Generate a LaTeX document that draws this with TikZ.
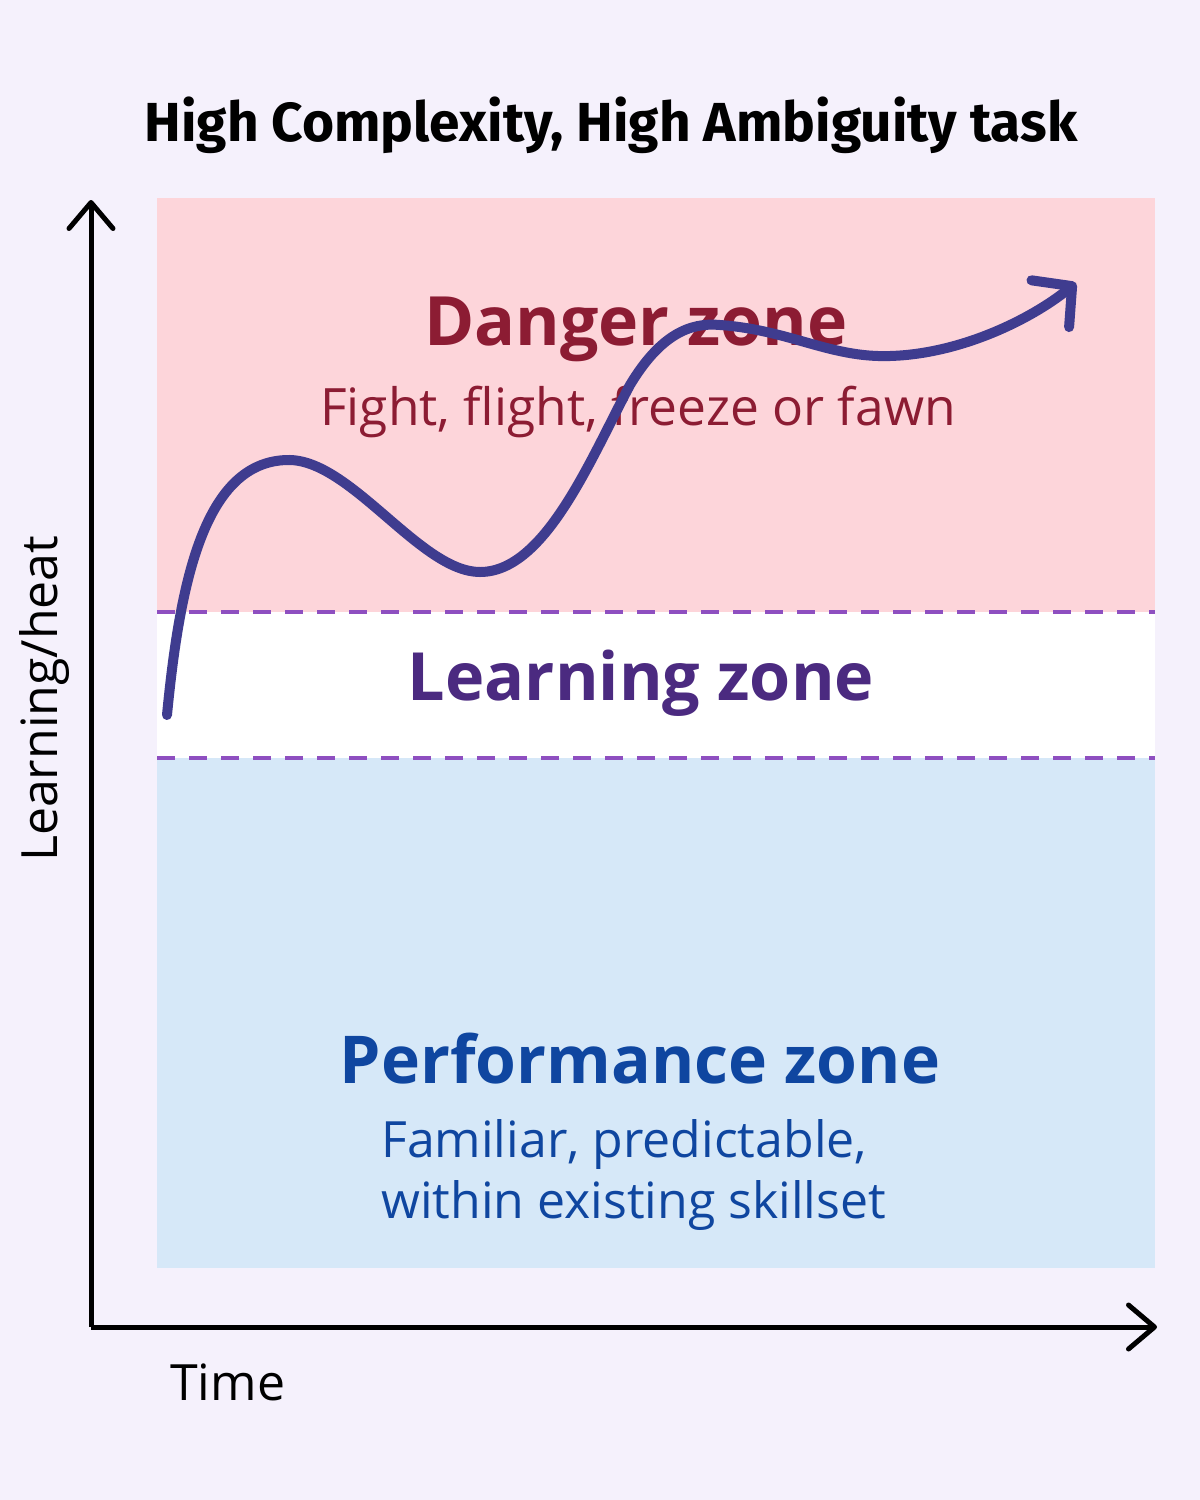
\documentclass[tikz,border=0pt]{standalone}
\usepackage{fontspec}
\setmainfont{Open Sans}
\newfontfamily\headfont{Fira Sans}
\usetikzlibrary{arrows.meta}
\definecolor{bgcol}{HTML}{F5F1FC}
\definecolor{dangercol}{HTML}{FDD5DA}
\definecolor{perfcol}{HTML}{D6E8F8}
\definecolor{dashcol}{HTML}{8E4FC0}
\definecolor{dangertxt}{HTML}{8C1C33}
\definecolor{learntxt}{HTML}{4B2A80}
\definecolor{perftxt}{HTML}{0F46A0}
\definecolor{curvecol}{HTML}{3F3C8F}
\begin{document}
\begin{tikzpicture}[x=1pt,y=-1pt,
  axis/.style={line width=5pt,-{Straight Barb[length=26pt,width=44pt,line width=5pt,round]}},
  zoneline/.style={dashcol,line width=4pt,dash pattern=on 18pt off 14pt},
  zonetitle/.style={anchor=base,inner sep=0pt,font=\bfseries},
  zonetext/.style={anchor=base,inner sep=0pt}]
\fill[bgcol] (0,0) rectangle (1200,1500);
\fill[dangercol] (157,198) rectangle (1155,612);
\fill[white] (157,612) rectangle (1155,758);
\fill[perfcol] (157,758) rectangle (1155,1268);
\draw[zoneline] (157,612) -- (1155,612);
\draw[zoneline] (157,758) -- (1155,758);
% axes
\coordinate (origin) at (91,1327);
\coordinate (ytop) at (91,200);
\coordinate (xend) at (1157,1327);
\draw[axis] (origin) -- (ytop);
\draw[axis] (origin) -- (xend);
\node[anchor=base,inner sep=0pt,font=\bfseries\headfont\fontsize{55}{60}\selectfont] (title) at (611,141) {High Complexity, High Ambiguity task};
\node[zonetitle,dangertxt] (danger) at (636,345) {\fontsize{68}{80}\selectfont Danger zone};
\node[zonetext,dangertxt] (dangersub) at (638,425) {\fontsize{51.5}{64}\selectfont Fight, flight, freeze or fawn};
\node[zonetitle,learntxt] (learning) at (641,700) {\fontsize{66.5}{80}\selectfont Learning zone};
\node[zonetitle,perftxt] (perf) at (640,1083) {\fontsize{66}{80}\selectfont Performance zone};
\node[zonetext,perftxt,anchor=base west] (perfsub1) at (381,1157) {\fontsize{50}{64}\selectfont Familiar, predictable,};
\node[zonetext,perftxt,anchor=base west] (perfsub2) at (381,1218) {\fontsize{50}{64}\selectfont within existing skillset};
\node[anchor=base west,inner sep=0pt,font=\fontsize{50}{60}\selectfont] (time) at (170,1400) {Time};
\node[anchor=base west,inner sep=0pt,rotate=90,font=\fontsize{50}{60}\selectfont] (heat) at (57,862) {Learning/heat};
% path through the zones
\draw[curvecol,line width=10pt,line cap=round,-{Straight Barb[length=28pt,width=60pt,line width=10pt,round]}]
  (167,715) .. controls (180,580) and (205,462) .. (287,460)
  .. controls (350,458) and (420,572) .. (480,572)
  .. controls (545,572) and (590,460) .. (630,385)
  .. controls (660,335) and (690,322) .. (720,325)
  .. controls (790,330) and (830,358) .. (890,356)
  .. controls (960,354) and (1030,320) .. (1076,283);
\end{tikzpicture}
\end{document}
